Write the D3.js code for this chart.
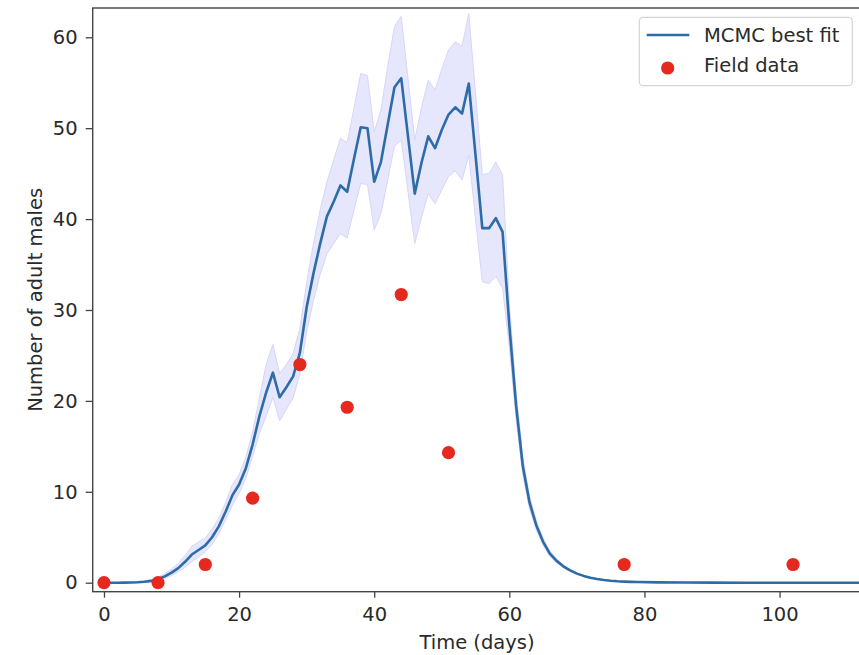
<!DOCTYPE html>
<html lang="en">
<head>
<meta charset="UTF-8">
<title>MCMC best fit vs field data</title>
<script src="https://d3js.org/d3.v7.min.js"></script>
<style>
    body { margin: 0; background: #fff; }
    svg { display: block; font-family: "DejaVu Sans", sans-serif; }
</style>
</head>
<body>
<svg id="chart" width="859" height="655"></svg>
<script>
    // time (days) of the model output
    const days = [
        0, 1, 2, 3, 4, 5, 6, 7, 8, 9,
        10, 11, 12, 13, 14, 15, 16, 17, 18, 19,
        20, 21, 22, 23, 24, 25, 26, 27, 28, 29,
        30, 31, 32, 33, 34, 35, 36, 37, 38, 39,
        40, 41, 42, 43, 44, 45, 46, 47, 48, 49,
        50, 51, 52, 53, 54, 55, 56, 57, 58, 59,
        60, 61, 62, 63, 64, 65, 66, 67, 68, 69,
        70, 71, 72, 73, 74, 75, 76, 77, 78, 79,
        82, 86, 90, 95, 100, 106, 112
    ];
    // MCMC best fit
    const bestFit = [
        0, 0, 0, 0.01, 0.02, 0.05, 0.1, 0.2, 0.4, 0.7,
        1.1, 1.6, 2.3, 3.1, 3.6, 4.1, 5.0, 6.2, 7.8, 9.6,
        10.8, 12.6, 15.2, 18.3, 20.9, 23.1, 20.4, 21.5, 22.7, 25.3,
        30.3, 34.0, 37.3, 40.3, 41.9, 43.7, 43.0, 46.6, 50.1, 50.0,
        44.1, 46.3, 50.4, 54.5, 55.5, 49.1, 42.8, 46.2, 49.1, 47.8,
        49.8, 51.5, 52.3, 51.6, 54.9, 47.0, 39.0, 39.0, 40.1, 38.6,
        28.3, 19.5, 12.8, 8.8, 6.3, 4.5, 3.2, 2.4, 1.8, 1.35,
        1.0, 0.75, 0.55, 0.4, 0.3, 0.22, 0.16, 0.12, 0.09, 0.07,
        0.04, 0.02, 0.01, 0, 0, 0, 0
    ];
    // credible band
    const upper = [
        0, 0, 0, 0.02, 0.05, 0.1, 0.2, 0.35, 0.6, 1.0,
        1.5, 2.1, 3.0, 4.0, 4.5, 4.9, 5.9, 7.1, 8.8, 10.8,
        11.9, 13.8, 16.6, 20.3, 24.0, 26.2, 23.0, 24.0, 25.2, 28.0,
        33.0, 37.3, 41.0, 44.1, 46.5, 48.9, 48.4, 52.2, 56.0, 55.8,
        49.6, 52.0, 56.8, 61.2, 62.3, 55.5, 48.7, 52.3, 55.3, 54.2,
        56.5, 58.6, 59.5, 59.0, 62.6, 53.8, 44.9, 45.0, 46.3, 44.9,
        30.8, 21.0, 13.8, 9.5, 6.8, 4.9, 3.5, 2.6, 1.95, 1.45,
        1.08, 0.8, 0.6, 0.44, 0.33, 0.24, 0.18, 0.13, 0.1, 0.08,
        0.05, 0.02, 0.01, 0, 0, 0, 0
    ];
    const lower = [
        0, 0, 0, 0, 0.01, 0.02, 0.05, 0.1, 0.25, 0.45,
        0.8, 1.2, 1.7, 2.3, 2.8, 3.4, 4.2, 5.4, 6.9, 8.5,
        9.8, 11.5, 13.9, 16.4, 18.3, 20.4, 17.8, 19.1, 20.3, 23.0,
        27.6, 31.0, 33.9, 36.2, 37.3, 38.4, 37.9, 41.0, 43.9, 43.8,
        38.8, 40.6, 44.3, 48.0, 48.7, 43.0, 37.3, 40.2, 42.8, 41.7,
        43.2, 44.7, 45.3, 44.3, 47.0, 40.0, 33.1, 32.9, 33.7, 32.4,
        25.9, 18.0, 11.8, 8.1, 5.8, 4.1, 2.9, 2.2, 1.65, 1.25,
        0.92, 0.7, 0.5, 0.37, 0.27, 0.2, 0.14, 0.11, 0.08, 0.06,
        0.03, 0.01, 0, 0, 0, 0, 0
    ];
    // field observations
    const fieldDays = [0, 8, 15, 22, 29, 36, 44, 51, 77, 102];
    const fieldCounts = [0, 0, 2, 9.3, 24, 19.3, 31.7, 14.3, 2, 2];

    const xTicks = [0, 20, 40, 60, 80, 100];
    const yTicks = [0, 10, 20, 30, 40, 50, 60];

    const svg = d3.select("#chart");
    const plotL = 92.7, plotR = 861.3, plotT = 8, plotB = 591.7;

    const x = d3.scaleLinear().domain([-1.67, 112.1]).range([plotL, plotR]);
    const y = d3.scaleLinear().domain([-0.99, 63.22]).range([plotB, plotT]);

    const fit = days.map((d, i) => ({ t: d, v: bestFit[i], hi: upper[i], lo: lower[i] }));

    svg.append("clipPath").attr("id", "plotClip")
        .append("rect")
        .attr("x", plotL).attr("y", plotT)
        .attr("width", plotR - plotL).attr("height", plotB - plotT);

    const plot = svg.append("g").attr("clip-path", "url(#plotClip)");

    plot.append("path")
        .datum(fit)
        .attr("fill", "#e6e6fd")
        .attr("stroke", "#d6d6f7")
        .attr("stroke-width", 1)
        .attr("d", d3.area().x(d => x(d.t)).y0(d => y(d.lo)).y1(d => y(d.hi)));

    plot.append("path")
        .datum(fit)
        .attr("fill", "none")
        .attr("stroke", "#2e6ca8")
        .attr("stroke-width", 2.6)
        .attr("stroke-linejoin", "round")
        .attr("d", d3.line().x(d => x(d.t)).y(d => y(d.v)));

    plot.selectAll(".obs")
        .data(fieldDays.map((d, i) => ({ t: d, v: fieldCounts[i] })))
        .join("circle")
        .attr("class", "obs")
        .attr("cx", d => x(d.t))
        .attr("cy", d => y(d.v))
        .attr("r", 6.6)
        .attr("fill", "#e5291f");

    // axes
    const xAxis = svg.append("g")
        .attr("transform", `translate(0,${plotB})`)
        .call(d3.axisBottom(x).tickValues(xTicks).tickSize(6).tickPadding(9).tickFormat(d3.format("d")));
    const yAxis = svg.append("g")
        .attr("transform", `translate(${plotL},0)`)
        .call(d3.axisLeft(y).tickValues(yTicks).tickSize(7).tickPadding(8).tickFormat(d3.format("d")));

    [xAxis, yAxis].forEach(g => {
        g.select(".domain").remove();
        g.selectAll(".tick line").attr("stroke", "#444").attr("stroke-width", 1.3);
        g.selectAll(".tick text")
            .attr("fill", "#2a2a2a")
            .style("font-size", "19.5px")
            .style("font-family", "'DejaVu Sans', sans-serif");
    });

    // frame
    svg.append("rect")
        .attr("x", plotL).attr("y", plotT)
        .attr("width", plotR - plotL).attr("height", plotB - plotT)
        .attr("fill", "none")
        .attr("stroke", "#444")
        .attr("stroke-width", 1.4);

    svg.append("text")
        .attr("x", (plotL + plotR) / 2)
        .attr("y", 649)
        .attr("text-anchor", "middle")
        .attr("fill", "#2a2a2a")
        .style("font-size", "19.5px")
        .text("Time (days)");

    svg.append("text")
        .attr("transform", `translate(42,${(plotT + plotB) / 2}) rotate(-90)`)
        .attr("text-anchor", "middle")
        .attr("fill", "#2a2a2a")
        .style("font-size", "19.5px")
        .text("Number of adult males");

    // legend
    const legend = svg.append("g");
    legend.append("rect")
        .attr("x", 639.3).attr("y", 17.3)
        .attr("width", 213).attr("height", 68.4)
        .attr("rx", 4)
        .attr("fill", "#fff")
        .attr("fill-opacity", 0.85)
        .attr("stroke", "#d4d4d4")
        .attr("stroke-width", 1.2);
    legend.append("line")
        .attr("x1", 646.7).attr("x2", 689.3)
        .attr("y1", 35).attr("y2", 35)
        .attr("stroke", "#2e6ca8")
        .attr("stroke-width", 2.6);
    legend.append("circle")
        .attr("cx", 667.7).attr("cy", 68)
        .attr("r", 6.6)
        .attr("fill", "#e5291f");
    legend.selectAll(".ltext")
        .data(["MCMC best fit", "Field data"])
        .join("text")
        .attr("class", "ltext")
        .attr("x", 704)
        .attr("y", (d, i) => 42 + i * 30)
        .attr("fill", "#2a2a2a")
        .style("font-size", "19.5px")
        .text(d => d);
</script>
</body>
</html>
